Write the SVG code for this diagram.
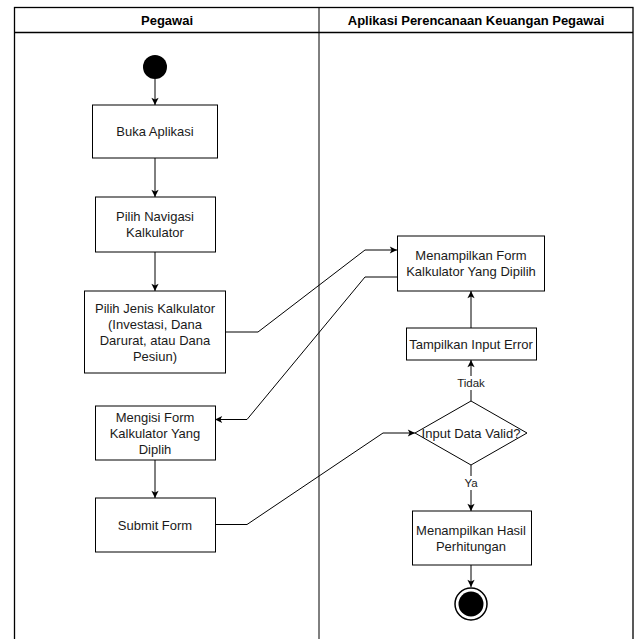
<svg xmlns="http://www.w3.org/2000/svg" width="637" height="639" viewBox="0 0 637 639">
<style>
  .box { fill: #ffffff; stroke: #000000; stroke-width: 1; }
  .txt { font-family: "Liberation Sans", Arial, sans-serif; font-size: 13px; fill: #1a1a1a; text-anchor: middle; }
  .hdr { font-family: "Liberation Sans", Arial, sans-serif; font-size: 13px; font-weight: bold; fill: #000000; text-anchor: middle; }
  .lbl { font-family: "Liberation Sans", Arial, sans-serif; font-size: 11.5px; fill: #1a1a1a; text-anchor: middle; }
  .edge { fill: none; stroke: #000000; stroke-width: 1; marker-end: url(#arr); }
  .lane { fill: none; stroke: #000000; stroke-width: 1.3; }
</style>
<defs>
  <marker id="arr" viewBox="0 0 10 10" refX="9" refY="5" markerWidth="9" markerHeight="9" orient="auto" markerUnits="userSpaceOnUse">
    <path d="M1,1 L9,5 L1,9 L3,5 z" fill="#000000"/>
  </marker>
</defs>
<rect width="637" height="639" fill="#ffffff"/>
<g id="swimlanes">
  <rect class="lane" x="14.5" y="7.5" width="618.5" height="650"/>
  <line x1="14.5" y1="32.5" x2="633" y2="32.5" stroke="#000" stroke-width="1.3"/>
  <line x1="319" y1="7.5" x2="319" y2="639" stroke="#000" stroke-width="1"/>
  <text class="hdr" x="167" y="25">Pegawai</text>
  <text class="hdr" x="476" y="25">Aplikasi Perencanaan Keuangan Pegawai</text>
</g>
<g id="connectors">
  <path class="edge" d="M155,79 V105"/>
  <path class="edge" d="M155,158 V197"/>
  <path class="edge" d="M155,252 V291"/>
  <path class="edge" d="M226,332 H258 L365,250 H397"/>
  <path class="edge" d="M397,277 H365 L247,419.5 H215"/>
  <path class="edge" d="M155,460 V498"/>
  <path class="edge" d="M215,524.5 H247 L383,433 H415"/>
  <path class="edge" d="M471,401 V360"/>
  <path class="edge" d="M471,328 V291"/>
  <path class="edge" d="M471,465 V511"/>
  <path class="edge" d="M471,565 V587"/>
  <rect x="456" y="376" width="30" height="14" fill="#ffffff"/>
  <text class="lbl" x="471" y="387">Tidak</text>
  <rect x="461" y="476" width="20" height="14" fill="#ffffff"/>
  <text class="lbl" x="471" y="487">Ya</text>
</g>
<g id="start">
  <circle cx="155" cy="67" r="12" fill="#000000"/>
</g>
<g id="buka-aplikasi">
  <rect class="box" x="92.5" y="105" width="125" height="53"/>
  <text class="txt" x="155" y="136">Buka Aplikasi</text>
</g>
<g id="pilih-navigasi">
  <rect class="box" x="95.5" y="197" width="120" height="55"/>
  <text class="txt" x="155" y="221">Pilih Navigasi</text>
  <text class="txt" x="155" y="237">Kalkulator</text>
</g>
<g id="pilih-jenis">
  <rect class="box" x="84.5" y="291" width="141" height="82"/>
  <text class="txt" x="155" y="312.6">Pilih Jenis Kalkulator</text>
  <text class="txt" x="155" y="328.6">(Investasi, Dana</text>
  <text class="txt" x="155" y="344.6">Darurat, atau Dana</text>
  <text class="txt" x="155" y="360.6">Pesiun)</text>
</g>
<g id="mengisi-form">
  <rect class="box" x="95.5" y="406" width="120" height="54"/>
  <text class="txt" x="155" y="421.6">Mengisi Form</text>
  <text class="txt" x="155" y="437.6">Kalkulator Yang</text>
  <text class="txt" x="155" y="453.6">Diplih</text>
</g>
<g id="submit-form">
  <rect class="box" x="95.5" y="498" width="120" height="54"/>
  <text class="txt" x="155" y="529.6">Submit Form</text>
</g>
<g id="menampilkan-form">
  <rect class="box" x="397.5" y="236" width="147" height="55"/>
  <text class="txt" x="471" y="260">Menampilkan Form</text>
  <text class="txt" x="471" y="276">Kalkulator Yang Dipilih</text>
</g>
<g id="tampilkan-error">
  <rect class="box" x="406.5" y="328" width="130" height="32"/>
  <text class="txt" x="471" y="348.5">Tampilkan Input Error</text>
</g>
<g id="input-valid">
  <polygon class="box" points="471,401 527,433 471,465 415,433"/>
  <text class="txt" x="471" y="437.6">Input Data Valid?</text>
</g>
<g id="menampilkan-hasil">
  <rect class="box" x="412.5" y="511" width="119" height="54"/>
  <text class="txt" x="471" y="534.6">Menampilkan Hasil</text>
  <text class="txt" x="471" y="550.6">Perhitungan</text>
</g>
<g id="end">
  <circle cx="471" cy="604" r="16" fill="#ffffff" stroke="#000000" stroke-width="1.5"/>
  <circle cx="471" cy="604" r="12.5" fill="#000000"/>
</g>
</svg>
